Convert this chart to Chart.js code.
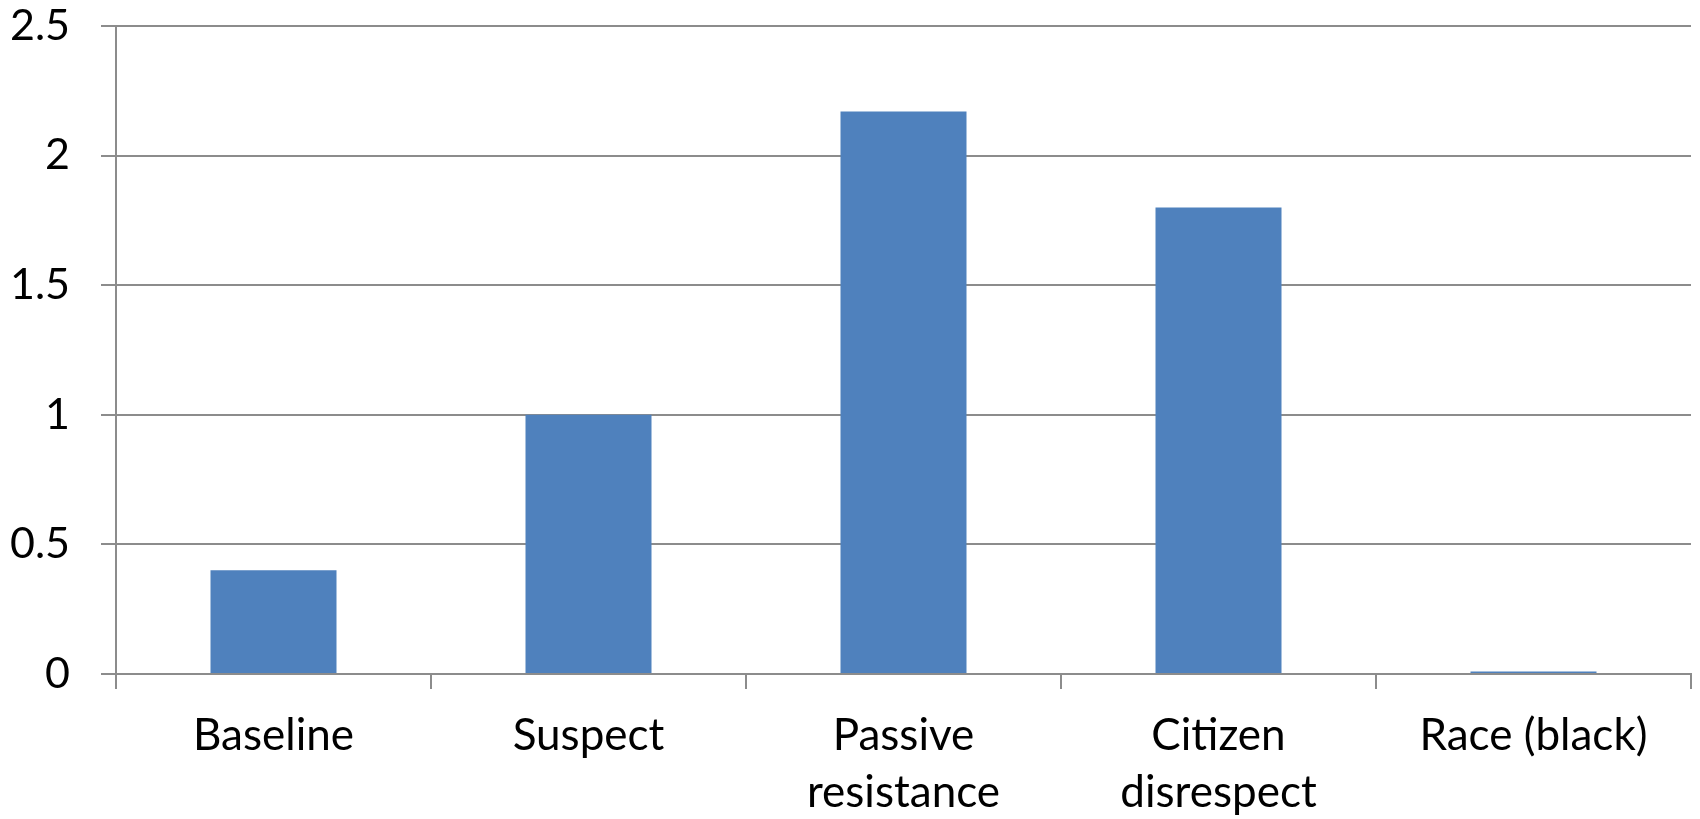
<!DOCTYPE html>
<html>
<head>
<meta charset="utf-8">
<script src="https://cdn.jsdelivr.net/npm/chart.js@4/dist/chart.umd.min.js"></script>
<style>
  html, body { margin: 0; padding: 0; background: #ffffff; }
  #wrap { width: 1700px; height: 819px; position: relative; }
</style>
</head>
<body>
<div id="wrap"><canvas id="c"></canvas></div>
<script>
// Categories and values for the bar chart
const categories = [
  'Baseline',
  'Suspect',
  ['Passive', 'resistance'],
  ['Citizen', 'disrespect'],
  'Race (black)'
];
const values = [0.4, 1.0, 2.17, 1.8, 0.01];
const yTicks = [0, 0.5, 1, 1.5, 2, 2.5];

const axisGrey = '#8c8c8c';
const fontFamily = 'Lato, "Open Sans", sans-serif';

new Chart(document.getElementById('c'), {
  type: 'bar',
  data: {
    labels: categories,
    datasets: [{
      data: values,
      backgroundColor: '#4f81bd',
      borderWidth: 0,
      categoryPercentage: 1.0,
      barPercentage: 0.4
    }]
  },
  options: {
    responsive: true,
    maintainAspectRatio: false,
    animation: false,
    layout: { padding: { top: 26, right: 9, left: 0, bottom: 0 } },
    plugins: {
      legend: { display: false },
      tooltip: { enabled: false }
    },
    scales: {
      x: {
        offset: true,
        grid: {
          offset: true,
          drawOnChartArea: false,
          drawTicks: true,
          tickLength: 15,
          color: axisGrey,
          lineWidth: 2
        },
        border: { display: true, color: axisGrey, width: 2 },
        ticks: {
          color: '#000000',
          font: { family: fontFamily, size: 44, lineHeight: 1.3 },
          padding: 18,
          maxRotation: 0,
          autoSkip: false
        },
        afterFit: (scale) => { scale.height = 145; }
      },
      y: {
        min: 0,
        max: 2.5,
        afterBuildTicks: (scale) => { scale.ticks = yTicks.map(v => ({ value: v })); },
        grid: {
          drawOnChartArea: true,
          drawTicks: true,
          tickLength: 15,
          color: axisGrey,
          lineWidth: 2
        },
        border: { display: true, color: axisGrey, width: 2 },
        ticks: {
          color: '#000000',
          font: { family: fontFamily, size: 43, lineHeight: 1.0 },
          padding: 31,
          callback: (v) => String(v)
        },
        afterFit: (scale) => {
          // fixed axis width; labels may overhang the plot top without shrinking it
          scale.width = 116;
          scale.paddingTop = 0;
          scale.paddingBottom = 0;
        }
      }
    }
  }
});
</script>
</body>
</html>
